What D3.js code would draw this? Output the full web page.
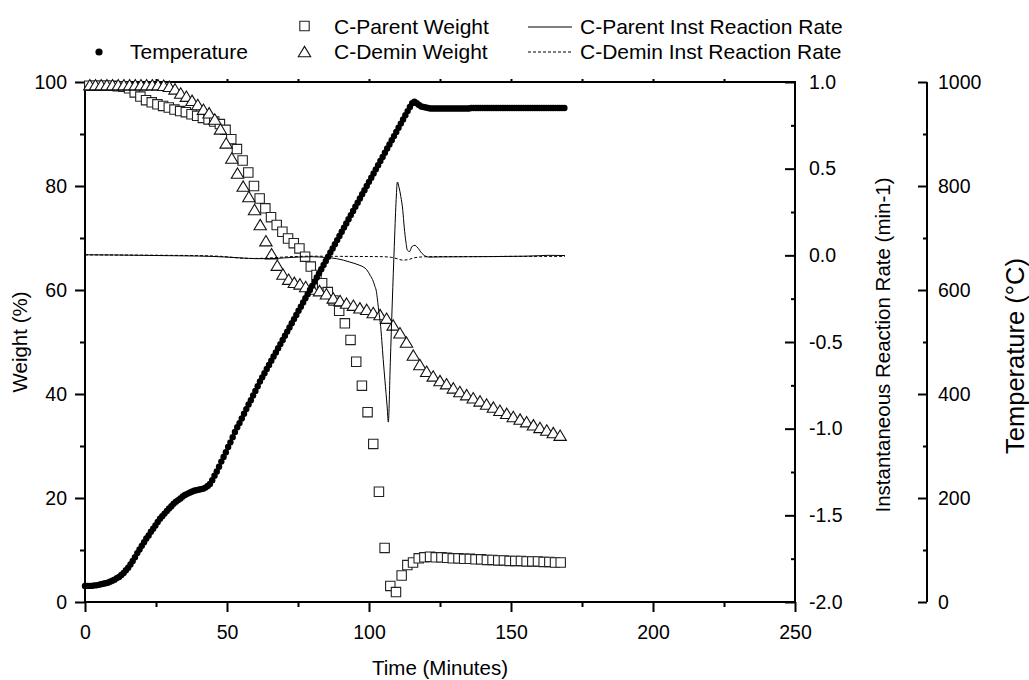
<!DOCTYPE html>
<html>
<head>
<meta charset="utf-8">
<script src="https://cdn.jsdelivr.net/npm/d3@7"></script>
<style>
  body { margin: 0; background: #fff; }
  svg { font-family: "Liberation Sans", Arial, sans-serif; }
</style>
</head>
<body>
<svg id="chart" width="1029" height="680"></svg>
<script>
// ---- data ----
// temperature logged every 0.8 min (°C)
const tempStep = 0.8;
const tempC = [
  31,31,31,31,32,32,33,34,35,36, 37,39,41,43,46,48,52,56,61,66,
  72,79,86,94,101,108,115,122,128,135, 141,147,154,160,165,170,175,180,184,189,
  193,196,199,203,206,208,210,212,214,215, 216,217,218,220,223,227,234,243,251,260,
  270,279,288,298,307,317,327,336,344,353, 362,371,380,388,397,406,415,424,432,440,
  448,456,464,472,480,488,496,504,512,520, 528,536,544,552,560,568,576,584,592,600,
  608,616,624,632,640,648,656,664,672,680, 688,696,704,712,720,728,736,744,752,760,
  768,776,784,792,800,808,816,824,832,840, 848,856,864,872,880,888,896,904,912,920,
  928,936,944,952,959,962,959,956,953,952, 951,950,949,949,949,949,949,949,949,949,
  949,949,949,949,949,949,949,949,949,949, 950,950,950,950,950,950,950,950,950,950,
  950,950,950,950,950,950,950,950,950,950, 950,950,950,950,950,950,950,950,950,950,
  950,950,950,950,950,950,950,950,950,950, 950,950
];

// C-Parent weight (%), one reading every 2 min starting at 1.5 min
const parentMinutes = d3.range(1.5, 168, 2);
const parentWeight = [
  99.3,99.3,99.3,99.3,99.3,99.2,99.1,98.8,98.0,97.2,
  96.5,96.1,95.7,95.4,95.1,94.7,94.4,94.2,93.8,93.5,
  93.1,92.8,92.4,91.9,90.8,89.0,87.1,84.9,82.6,80.0,
  77.6,75.7,74.0,72.5,71.2,69.9,69.0,68.0,66.4,64.5,
  62.9,61.3,59.6,58.0,56.0,53.6,50.4,46.2,41.6,36.5,
  30.4,21.2,10.4,3.1,1.9,5.1,7.1,7.6,8.4,8.6,
  8.7,8.6,8.6,8.5,8.4,8.4,8.3,8.3,8.2,8.2,
  8.1,8.1,8.0,8.0,7.9,7.9,7.9,7.8,7.8,7.8,
  7.7,7.7,7.6,7.6
];

// C-Demin weight (%)
const deminMinutes = [
  1.7,3.7,5.7,7.7,9.7,11.7,13.7,15.7,17.7,19.7,21.7,23.7,25.7,27.7,29.7,31.7,33.7,35.7,37.7,39.7,
  41.7,43.7,45.7,47.7,49.7,51.7,53.7,55.7,57.7,59.7,61.7,63.7,65.7,67.7,69.7,71.7,73.7,75.7,77.7,
  80.2,82.6,85.0,87.4,89.8,92.1,94.5,96.8,99.2,101.5,103.9,106.2,108.5,110.9,113.2,115.6,117.9,120.3,122.6,125.0,
  127.3,129.7,132.0,134.4,136.7,139.1,141.4,143.8,146.1,148.5,150.8,153.2,155.5,157.9,160.2,162.6,164.9,167.3
];
const deminWeight = [
  99.4,99.4,99.4,99.4,99.4,99.4,99.4,99.4,99.4,99.4,99.4,99.4,99.4,99.3,99.1,98.6,97.8,97.2,96.4,95.6,
  94.7,94.0,92.8,90.9,88.2,85.3,82.4,79.9,77.9,75.4,72.5,69.4,66.9,64.7,63.0,62.0,61.4,61.1,60.6,
  60.1,59.8,59.2,58.4,57.9,57.4,57.0,56.5,56.2,55.6,55.2,54.5,53.2,51.7,49.9,47.4,45.6,44.3,43.4,42.5,
  41.9,41.1,40.4,39.8,39.2,38.6,38.0,37.4,36.8,36.2,35.6,35.1,34.6,34.0,33.5,33.0,32.5,32.0
];

// instantaneous reaction rate (min-1)
const parentRateMinutes = [
  0,10,20,30,40,50,55,60,65,70,75,80,85,88.6,91,93.3,96.8,98,99.2,100.4,
  101.5,102.1,102.5,103.3,103.6,104.1,104.5,105,105.6,106.4,106.8,107.5,108.2,108.9,109.5,110,
  110.6,111.2,111.9,112.4,113,113.5,114.3,115,115.6,116.2,116.8,117.4,118.2,119.1,120,120.9,
  125,135,145,155,160,163,169
];
const parentRate = [
  0.003,0.002,0,-0.002,-0.004,-0.01,-0.015,-0.019,-0.019,-0.015,-0.01,-0.008,-0.013,-0.019,-0.028,-0.039,-0.058,-0.067,-0.083,-0.115,
  -0.15,-0.18,-0.2,-0.3,-0.34,-0.41,-0.49,-0.6,-0.72,-0.875,-0.962,-0.62,-0.27,0.05,0.3,0.423,
  0.39,0.34,0.26,0.163,0.077,0.03,0.022,0.048,0.056,0.058,0.05,0.039,0.02,0.004,-0.005,-0.01,
  -0.009,-0.008,-0.007,-0.005,-0.002,0,-0.001
];
const deminRateMinutes = [0,20,40,48,52,56,60,64,68,72,76,80,90,100,105,108,110,112,114,116,118,120,130,140,150,160,169];
const deminRate = [
  0.003,0.001,-0.002,-0.006,-0.012,-0.017,-0.018,-0.016,-0.012,-0.008,-0.006,-0.005,-0.006,-0.007,
  -0.008,-0.012,-0.02,-0.028,-0.024,-0.014,-0.01,-0.008,-0.007,-0.007,-0.006,-0.006,-0.006
];

const weightTicks = [0, 20, 40, 60, 80, 100];
const timeTicks = [0, 50, 100, 150, 200, 250];
const rateTicks = [-2, -1.5, -1, -0.5, 0, 0.5, 1];
const tempTicks = [0, 200, 400, 600, 800, 1000];

// ---- scales ----
const svg = d3.select("#chart");
const x = d3.scaleLinear().domain([0, 250]).range([85, 795]);
const yW = d3.scaleLinear().domain([0, 100]).range([602, 82]);
const yR = d3.scaleLinear().domain([-2, 1]).range([602, 82]);
const yT = d3.scaleLinear().domain([0, 1000]).range([602, 82]);

function styleAxis(g) {
  g.attr("font-size", 19.5).attr("font-family", null);
  g.selectAll(".tick text").attr("fill", "#000");
  g.selectAll("line").attr("stroke", "#000").attr("stroke-width", 2);
  g.select(".domain").remove();
}

// left weight axis
svg.append("g").attr("transform", "translate(85,0)")
  .call(d3.axisLeft(yW).tickValues(weightTicks).tickSize(10).tickPadding(8))
  .call(styleAxis);
svg.append("g").attr("transform", "translate(85,0)")
  .call(d3.axisLeft(yW).tickValues(d3.range(10, 100, 20)).tickSize(5).tickFormat(""))
  .call(styleAxis);

// bottom time axis
svg.append("g").attr("transform", "translate(0,602)")
  .call(d3.axisBottom(x).tickValues(timeTicks).tickSize(10).tickPadding(13))
  .call(styleAxis);
svg.append("g").attr("transform", "translate(0,602)")
  .call(d3.axisBottom(x).tickValues(d3.range(25, 250, 50)).tickSize(5).tickFormat(""))
  .call(styleAxis);
// top frame ticks
svg.append("g").attr("transform", "translate(0,82)")
  .call(d3.axisTop(x).tickValues(d3.range(25, 250, 25)).tickSize(3).tickFormat(""))
  .call(styleAxis);

// right rate axis (ticks inward)
svg.append("g").attr("transform", "translate(795,0)")
  .call(d3.axisRight(yR).tickValues(rateTicks).tickSizeInner(-10).tickSizeOuter(0).tickPadding(14)
    .tickFormat(d => d.toFixed(1)))
  .call(styleAxis);
svg.append("g").attr("transform", "translate(795,0)")
  .call(d3.axisRight(yR).tickValues(d3.range(-1.75, 1, 0.5)).tickSizeInner(-4).tickFormat(""))
  .call(styleAxis);

// temperature axis
svg.append("g").attr("transform", "translate(927,0)")
  .call(d3.axisRight(yT).tickValues(tempTicks).tickSizeInner(-9).tickPadding(11).tickFormat(d => String(d)))
  .call(styleAxis);
svg.append("g").attr("transform", "translate(927,0)")
  .call(d3.axisRight(yT).tickValues(d3.range(100, 1000, 200)).tickSizeInner(-4).tickFormat(""))
  .call(styleAxis);

// frame lines
const frame = svg.append("g").attr("stroke", "#000").attr("stroke-width", 2).attr("fill", "none");
frame.append("path").attr("d", `M${x(0)},${yW(100)}H${x(250)}V${yW(0)}H${x(0)}Z`);
frame.append("line").attr("x1", 927).attr("x2", 927).attr("y1", yT(0)).attr("y2", yT(1000));

// ---- marks ----
const tri = "M0,-5.6L6.2,4.8L-6.2,4.8Z";
const sq = "M-4.7,-4.7H4.7V4.7H-4.7Z";

svg.append("g").selectAll("path")
  .data(parentMinutes.map((t, i) => [t, parentWeight[i]]))
  .join("path")
  .attr("d", sq)
  .attr("transform", d => `translate(${x(d[0])},${yW(d[1])})`)
  .attr("fill", "#fff").attr("stroke", "#222").attr("stroke-width", 1.1);

svg.append("g").selectAll("path")
  .data(deminMinutes.map((t, i) => [t, deminWeight[i]]))
  .join("path")
  .attr("d", tri)
  .attr("transform", d => `translate(${x(d[0])},${yW(d[1])})`)
  .attr("fill", "#fff").attr("stroke", "#111").attr("stroke-width", 1.1);

const rateLine = d3.line().x(d => x(d[0])).y(d => yR(d[1])).curve(d3.curveMonotoneX);
svg.append("path")
  .datum(deminRateMinutes.map((t, i) => [t, deminRate[i]]))
  .attr("d", rateLine)
  .attr("fill", "none").attr("stroke", "#000").attr("stroke-width", 1).attr("stroke-dasharray", "3,2");
svg.append("path")
  .datum(parentRateMinutes.map((t, i) => [t, parentRate[i]]))
  .attr("d", rateLine)
  .attr("fill", "none").attr("stroke", "#000").attr("stroke-width", 1);

svg.append("g").selectAll("circle")
  .data(tempC.map((v, i) => [i * tempStep, v]))
  .join("circle")
  .attr("cx", d => x(d[0]))
  .attr("cy", d => yT(d[1]))
  .attr("r", 3.2)
  .attr("fill", "#000");

// ---- axis titles ----
svg.append("text").attr("transform", "translate(20,342) rotate(-90)")
  .attr("text-anchor", "middle").attr("dy", "0.35em").attr("font-size", 20.5).text("Weight (%)");
svg.append("text").attr("transform", "translate(883,345) rotate(-90)")
  .attr("text-anchor", "middle").attr("dy", "0.35em").attr("font-size", 20.5).text("Instantaneous Reaction Rate (min-1)");
svg.append("text").attr("transform", "translate(1015,356) rotate(-90)")
  .attr("text-anchor", "middle").attr("dy", "0.35em").attr("font-size", 25.5).text("Temperature (°C)");
svg.append("text").attr("x", 440).attr("y", 668)
  .attr("text-anchor", "middle").attr("dy", "0.35em").attr("font-size", 20.5).text("Time (Minutes)");

// ---- legend ----
const lg = svg.append("g").attr("font-size", 21);
lg.append("circle").attr("cx", 99).attr("cy", 52).attr("r", 3.6).attr("fill", "#000");
lg.append("text").attr("x", 130).attr("y", 58.5).text("Temperature");
lg.append("path").attr("d", sq).attr("transform", "translate(304.5,26)")
  .attr("fill", "#fff").attr("stroke", "#222").attr("stroke-width", 1.1);
lg.append("text").attr("x", 334).attr("y", 33.5).text("C-Parent Weight");
lg.append("path").attr("d", tri).attr("transform", "translate(304.5,52)")
  .attr("fill", "#fff").attr("stroke", "#111").attr("stroke-width", 1.1);
lg.append("text").attr("x", 334).attr("y", 58.5).text("C-Demin Weight");
lg.append("line").attr("x1", 528).attr("x2", 572).attr("y1", 27).attr("y2", 27)
  .attr("stroke", "#000").attr("stroke-width", 1);
lg.append("text").attr("x", 580).attr("y", 33.5).text("C-Parent Inst Reaction Rate");
lg.append("line").attr("x1", 528).attr("x2", 572).attr("y1", 52).attr("y2", 52)
  .attr("stroke", "#000").attr("stroke-width", 1).attr("stroke-dasharray", "3,2");
lg.append("text").attr("x", 580).attr("y", 58.5).text("C-Demin Inst Reaction Rate");
</script>
</body>
</html>
